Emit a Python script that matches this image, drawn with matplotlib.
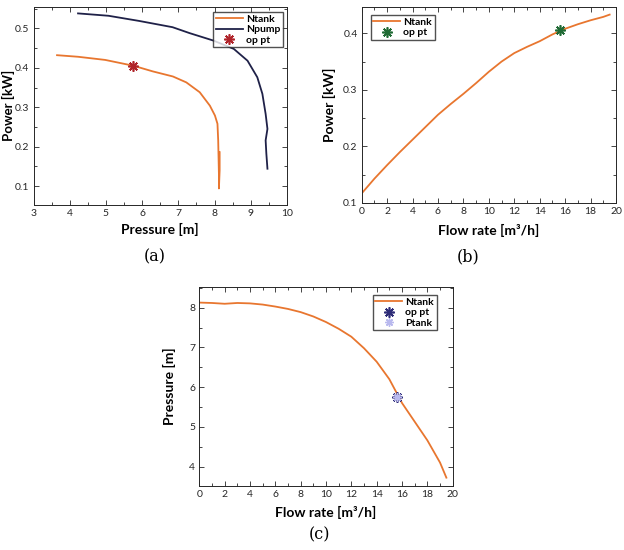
import matplotlib
matplotlib.use("Agg")
import matplotlib.pyplot as plt
from matplotlib.ticker import MultipleLocator

plt.rcParams['font.family'] = ['Lato', 'DejaVu Sans']

# colours
c_tank = '#e8762f'
c_pump = '#1f2148'

# (a) power vs pressure
a_tank_pressure = [3.65, 4.23, 4.98, 5.77, 6.29, 6.85, 7.22, 7.59, 7.87, 8.01, 8.08, 8.10, 8.11, 8.12, 8.12, 8.14, 8.14]
a_tank_power = [0.432, 0.428, 0.420, 0.405, 0.391, 0.378, 0.363, 0.338, 0.304, 0.279, 0.258, 0.216, 0.173, 0.130, 0.094, 0.140, 0.186]
a_pump_pressure = [4.23, 5.07, 5.91, 6.84, 7.31, 7.97, 8.53, 8.91, 9.18, 9.32, 9.41, 9.46, 9.41, 9.43, 9.46]
a_pump_power = [0.538, 0.532, 0.519, 0.503, 0.488, 0.469, 0.448, 0.418, 0.376, 0.334, 0.283, 0.245, 0.216, 0.182, 0.144]

# (b), (c) vs flow rate
flow = [0, 1, 2, 3, 4, 5, 6, 7, 8, 9, 10, 11, 12, 13, 14, 15, 16, 17, 18, 19, 19.5]
power = [0.117, 0.143, 0.167, 0.190, 0.212, 0.234, 0.256, 0.275, 0.293, 0.312, 0.332,
         0.350, 0.365, 0.376, 0.386, 0.398, 0.408, 0.416, 0.423, 0.429, 0.433]
pressure = [8.13, 8.12, 8.10, 8.12, 8.11, 8.08, 8.03, 7.97, 7.89, 7.78, 7.64,
            7.47, 7.27, 6.98, 6.64, 6.20, 5.60, 5.13, 4.66, 4.10, 3.72]

# operating point
op_flow = 15.6
op_power = 0.405
op_pressure = 5.76

W, H = 624, 550
fig = plt.figure(figsize=(W / 100, H / 100), dpi=100)

def axes_px(l, t, r, b):
    return fig.add_axes([l / W, 1 - b / H, (r - l) / W, (b - t) / H])

star = (8, 2, 0)

def style(ax, xmaj, xmin, ymaj, ymin):
    ax.xaxis.set_major_locator(MultipleLocator(xmaj))
    ax.xaxis.set_minor_locator(MultipleLocator(xmin))
    ax.yaxis.set_major_locator(MultipleLocator(ymaj))
    ax.yaxis.set_minor_locator(MultipleLocator(ymin))
    ax.tick_params(which='both', direction='in', top=True, right=True,
                   colors='#262626', labelsize=7.5, width=0.6)
    ax.tick_params(which='major', length=3.5, pad=3)
    ax.tick_params(which='minor', length=2.5)
    for s in ax.spines.values():
        s.set_color('#262626')
        s.set_linewidth(0.7)

leg_kw = dict(frameon=True, fancybox=False, edgecolor='#262626',
              borderpad=0.25, labelspacing=0.1, handlelength=2.6, handletextpad=0.3,
              borderaxespad=0, prop={'weight': 'bold', 'size': 7.5})

# ---- (a)
ax = axes_px(33.5, 6.7, 287, 205)
ax.plot(a_tank_pressure, a_tank_power, color=c_tank, lw=1.3, label='Ntank')
ax.plot(a_pump_pressure, a_pump_power, color=c_pump, lw=1.3, label='Npump')
ax.plot([5.75], [op_power], ls='none', marker=star, ms=7.5, mew=1.2,
        color='#b0242a', label='op pt')
ax.set_xlim(3, 10)
ax.set_ylim(0.052, 0.555)
style(ax, 1, 0.5, 0.1, 0.05)
ax.set_xlabel('Pressure [m]', fontsize=10, fontweight='bold')
ax.set_ylabel('Power [kW]', fontsize=9.5, fontweight='bold')
ax.xaxis.set_label_coords(0.5, -0.09)
ax.yaxis.set_label_coords(-0.074, 0.5)
ax.legend(loc='upper right', bbox_to_anchor=(0.984, 0.973), **leg_kw)

# ---- (b)
ax = axes_px(361.7, 6.7, 616, 203)
ax.plot(flow, power, color=c_tank, lw=1.3, label='Ntank')
ax.plot([op_flow], [op_power], ls='none', marker=star, ms=7.5, mew=1.2,
        color='#1f6a34', label='op pt')
ax.set_xlim(0, 20)
ax.set_ylim(0.1, 0.447)
style(ax, 2, 1, 0.1, 0.05)
ax.set_xlabel('Flow rate [m³/h]', fontsize=10, fontweight='bold')
ax.set_ylabel('Power [kW]', fontsize=10, fontweight='bold')
ax.xaxis.set_label_coords(0.5, -0.107)
ax.yaxis.set_label_coords(-0.1, 0.5)
ax.legend(loc='upper left', bbox_to_anchor=(0.035, 0.958), **leg_kw)

# ---- (c)
ax = axes_px(199.3, 286.7, 452.7, 486)
ax.plot(flow, pressure, color=c_tank, lw=1.3, label='Ntank')
ax.plot([op_flow], [op_pressure], ls='none', marker=star, ms=7.5, mew=1.2,
        color='#2e2c78', label='op pt')
ax.plot([op_flow], [op_pressure], ls='none', marker=star, ms=6, mew=1.0,
        color='#b9b9ee', label='Ptank')
ax.set_xlim(0, 20)
ax.set_ylim(3.51, 8.53)
style(ax, 2, 1, 1, 0.5)
ax.set_xlabel('Flow rate [m³/h]', fontsize=10, fontweight='bold')
ax.set_ylabel('Pressure [m]', fontsize=10, fontweight='bold')
ax.xaxis.set_label_coords(0.5, -0.1)
ax.yaxis.set_label_coords(-0.09, 0.5)
ax.legend(loc='upper right', bbox_to_anchor=(0.937, 0.958), **leg_kw)

# sub-captions
for x, y, s in [(155, 257, '(a)'), (468, 257, '(b)'), (320, 535, '(c)')]:
    fig.text(x / W, 1 - y / H, s, ha='center', va='center', fontsize=11.5,
             family=['DejaVu Serif'])

fig.savefig('out.png', dpi=100)
